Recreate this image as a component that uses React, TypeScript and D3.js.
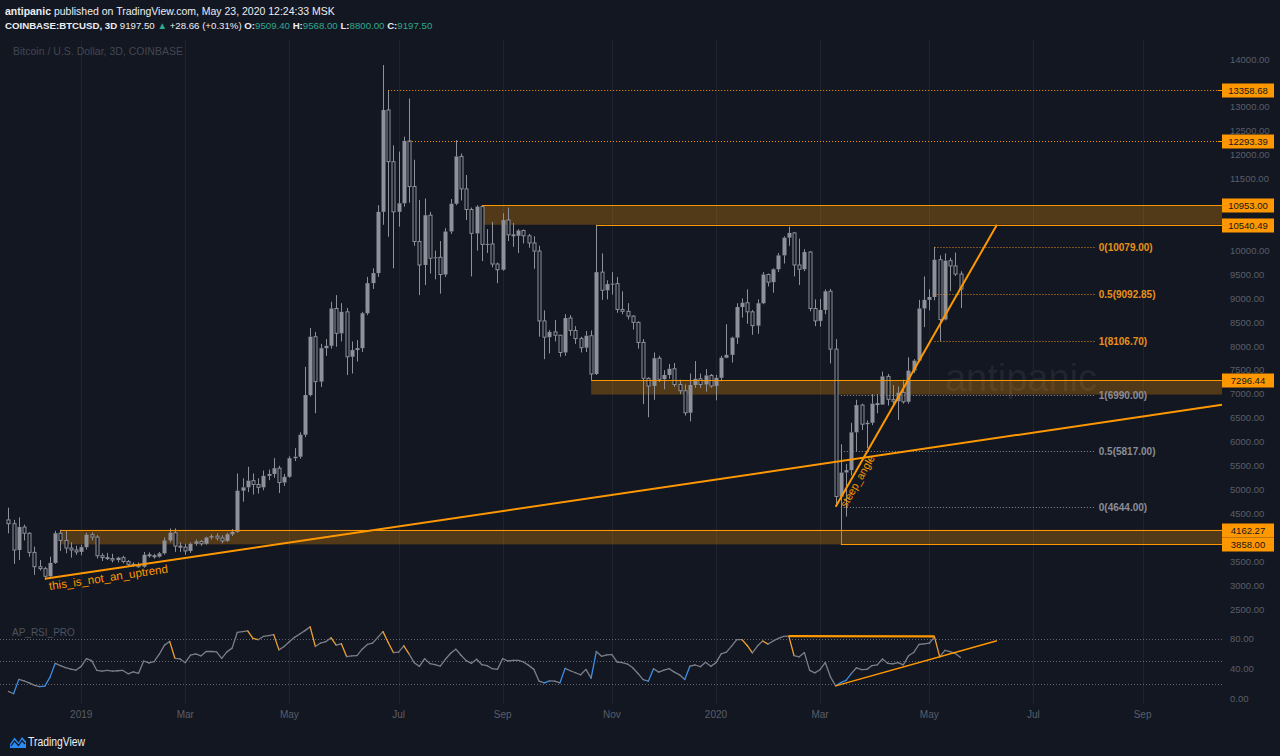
import * as d3 from "d3"
import React from "react"

// 3D bars, COINBASE:BTCUSD, first bar 2018-11-21 (TradingView restarts the 3-day count each Jan 1)
const barOpen = [
  4370, 4290, 3740, 4220, 4090, 3690, 3390, 3350, 3190, 3470,
  4090, 3940, 3780, 3740, 3700, 3800, 4060, 4010, 3620, 3580,
  3560, 3530, 3580, 3500, 3440, 3420, 3390, 3640, 3620, 3600,
  3670, 3940, 4100, 3820, 3800, 3720, 3870, 3920, 3870, 4000,
  4030, 3990, 3930, 4070, 4120, 4980, 5050, 5190, 5110, 5050,
  5290, 5330, 5450, 5150, 5270, 5660, 5690, 6150, 6980, 8200,
  7260, 7960, 8010, 8790, 8270, 8720, 7780, 7920, 7960, 8690,
  9320, 9530, 10810, 12940, 11860, 10810, 10990, 12293.39, 11340, 10190,
  9700, 10740, 9840, 9860, 9500, 10400, 10980, 11970, 11290, 10860,
  10360, 10920, 10130, 10140, 9720, 9600, 10640, 10330, 10310, 10420,
  10310, 10160, 9990, 8530, 8190, 8300, 8230, 7870, 8590, 8330,
  8160, 7970, 8220, 7420, 9550, 9170, 9300, 9310, 8770, 8730,
  8630, 8500, 8080, 7330, 7170, 7750, 7310, 7400, 7530, 7200,
  7070, 6610, 7190, 7320, 7200, 7390, 7170, 7340, 7760, 7820,
  8180, 8820, 8910, 8720, 8430, 8900, 9500, 9340, 9610, 9900,
  10270, 10370, 9700, 9610, 9970, 8790, 8530, 8760, 9150, 7940,
  4857, 5360, 5410, 6200, 6770, 6370, 6400, 6800, 6780, 7370,
  6890, 6850, 7030, 6840, 7490, 7700, 8790, 8970, 9030, 9810,
  8560, 9790, 9680, 9509.4,
]
const barHigh = [
  4625, 4370, 4420, 4270, 4110, 3810, 3530, 3390, 3600, 4140,
  4162.27, 4150, 3900, 3830, 3850, 4100, 4110, 4050, 3670, 3680,
  3660, 3600, 3620, 3530, 3480, 3480, 3700, 3690, 3660, 3700,
  4000, 4190, 4190, 3900, 3870, 3900, 3960, 3950, 4020, 4070,
  4090, 4050, 4100, 4180, 5340, 5240, 5480, 5340, 5240, 5400,
  5420, 5660, 5500, 5330, 5700, 5870, 6200, 7570, 8380, 8300,
  8050, 8150, 8930, 9070, 8900, 8800, 8100, 8130, 8720, 9450,
  9630, 10950, 13880, 13358.68, 12200, 12070, 12380, 13180, 11900, 11060,
  11090, 10810, 10000, 10200, 10470, 11080, 12310, 12030, 11580, 10900,
  10950, 10953, 10450, 10600, 9750, 10780, 10900, 10580, 10450, 10440,
  10350, 10300, 10100, 8750, 8340, 8550, 8240, 8670, 8650, 8420,
  8200, 8320, 8330, 10540.49, 9940, 9380, 9550, 9450, 9150, 8900,
  8650, 8520, 8150, 7350, 7870, 7800, 7500, 7630, 7650, 7300,
  7200, 7430, 7690, 7430, 7520, 7420, 7400, 7800, 8460, 8200,
  8900, 9000, 9190, 8760, 8980, 9550, 9520, 9630, 9950, 10300,
  10500, 10390, 10250, 10030, 9990, 8980, 8990, 9190, 9200, 8150,
  5950, 5540, 6400, 6880, 6800, 6450, 7000, 7000, 7470, 7420,
  7190, 7160, 7300, 7770, 7730, 8970, 9460, 9190, 10079, 9900,
  9940, 9850, 9960, 9568,
]
const barLow = [
  4090, 3450, 3530, 3940, 3600, 3220, 3310, 3120, 3150, 3450,
  3720, 3670, 3580, 3640, 3630, 3750, 3940, 3560, 3510, 3530,
  3480, 3480, 3460, 3400, 3390, 3370, 3370, 3580, 3560, 3580,
  3640, 3900, 3700, 3700, 3640, 3680, 3830, 3830, 3850, 3960,
  3940, 3880, 3910, 4030, 4100, 4750, 4950, 4900, 4920, 4990,
  5200, 5250, 4930, 5080, 5250, 5600, 5650, 6100, 6950, 6600,
  7150, 7800, 7950, 7990, 8100, 7400, 7430, 7680, 7880, 8650,
  9200, 9450, 10540, 10290, 9630, 10500, 10920, 11000, 10100, 9070,
  9280, 9520, 9400, 9100, 9450, 10350, 10950, 11050, 10640, 9460,
  10000, 9780, 9950, 9650, 9320, 9580, 10200, 10080, 9950, 10150,
  10060, 9620, 8200, 7730, 7850, 8100, 7780, 7800, 8220, 8050,
  7870, 7880, 7296.44, 7400, 8970, 8980, 9080, 8700, 8670, 8560,
  8350, 7950, 6790, 6515, 6880, 7250, 7100, 7320, 7150, 7000,
  6550, 6430, 7130, 7130, 7050, 7130, 6870, 7270, 7750, 7660,
  8050, 8600, 8470, 8240, 8260, 8880, 9250, 9120, 9550, 9730,
  10100, 9460, 9280, 9570, 8730, 8420, 8410, 8670, 7640, 4644,
  3858, 4440, 5300, 5800, 6250, 5870, 6350, 6600, 6780, 6760,
  6770, 6460, 6800, 6800, 7440, 7680, 8400, 8750, 8960, 8106.7,
  8540, 9150, 9470, 8800,
]
const barClose = [
  4290, 3740, 4220, 4090, 3690, 3390, 3350, 3190, 3470, 4090,
  3940, 3780, 3740, 3700, 3800, 4060, 4010, 3620, 3580, 3560,
  3530, 3580, 3500, 3440, 3420, 3390, 3640, 3620, 3600, 3670,
  3940, 4100, 3820, 3800, 3720, 3870, 3920, 3870, 4000, 4030,
  3990, 3930, 4070, 4120, 4980, 5050, 5190, 5110, 5050, 5290,
  5330, 5450, 5150, 5270, 5660, 5690, 6150, 6980, 8200, 7260,
  7960, 8010, 8790, 8270, 8720, 7780, 7920, 7960, 8690, 9320,
  9530, 10810, 12940, 11860, 10810, 10990, 12293.39, 11340, 10190, 9700,
  10740, 9840, 9860, 9500, 10400, 10980, 11970, 11290, 10860, 10360,
  10920, 10130, 10140, 9720, 9600, 10640, 10330, 10310, 10420, 10310,
  10160, 9990, 8530, 8190, 8300, 8230, 7870, 8590, 8330, 8160,
  7970, 8220, 7420, 9550, 9170, 9300, 9310, 8770, 8730, 8630,
  8500, 8080, 7330, 7170, 7750, 7310, 7400, 7530, 7200, 7070,
  6610, 7190, 7320, 7200, 7390, 7170, 7340, 7760, 7820, 8180,
  8820, 8910, 8720, 8430, 8900, 9500, 9340, 9610, 9900, 10270,
  10370, 9700, 9610, 9970, 8790, 8530, 8760, 9150, 7940, 4857,
  5360, 5410, 6200, 6770, 6370, 6400, 6800, 6780, 7370, 6890,
  6850, 7030, 6840, 7490, 7700, 8790, 8970, 9030, 9810, 8560,
  9790, 9680, 9509.4, 9197.5,
]

// AP_RSI_PRO, one value per bar
const rsiValues = [
  10, 7, 26, 24, 21.3, 18, 16.4, 17, 29, 47.3,
  44.2, 41.5, 39.7, 38.4, 43.3, 53.6, 50.9, 37.9, 37, 37.9,
  37, 37.5, 37.9, 33.4, 36.1, 33.9, 50.4, 47.8, 49.5, 59.4,
  71.5, 76.4, 54, 53.1, 48.2, 58.1, 59.8, 57.2, 63, 63,
  62.5, 54, 62.5, 67.5, 88.5, 89.4, 90.3, 80.4, 78.7, 83,
  84, 85.4, 65.2, 69.7, 76, 81.8, 86.3, 90.7, 95.7, 69.7,
  74.2, 76, 81.3, 71.5, 73.3, 56.3, 57.2, 57.6, 66.1, 72.4,
  74.2, 81.8, 89.4, 75, 61.6, 62.1, 70.6, 59.8, 48.2, 43.3,
  53.6, 46.9, 45.5, 43.7, 52.7, 60.7, 66.1, 58.1, 50.9, 47.3,
  52.7, 45.5, 44.2, 40.2, 39.3, 53.6, 50.4, 51.3, 51.3, 49.1,
  44.6, 39.3, 23.6, 21.3, 24, 23.6, 21.3, 40.6, 37.5, 34.8,
  32.1, 39.3, 27.6, 63, 56.7, 58.5, 59, 49.1, 48.2, 46.4,
  41.5, 33.9, 25.8, 23.6, 40.2, 35.7, 38.4, 40.2, 35.7, 32.1,
  25.8, 43.7, 45.1, 42.8, 48.7, 43.3, 48.2, 59.8, 62.1, 70.1,
  78.7, 78.7, 71, 61.2, 70.6, 76.9, 72.8, 76.9, 80.4, 83,
  83.5, 57.7, 56, 61.6, 38, 34.6, 38.9, 48.3, 29.4, 17.4,
  21.7, 24.7, 33.7, 41.4, 38.9, 39.3, 44.4, 45.3, 53, 47.4,
  46.6, 48.3, 45.3, 57.3, 61.6, 72.3, 73.1, 74, 82.5, 56,
  64.6, 62.9, 60.3, 55.1,
]

const priceTicks = d3.range(2500, 14001, 500)
const rsiTicks = [80, 40, 0]
const rsiGuides = [80, 50, 20]

// drawings (bar index, price)
const zoneFrom = [91, 112, 10]
const zoneTop = [10953, 7296.44, 4162.27]
const zoneBottom = [10540.49, 6990, 3858]
const rayFrom = [91, 113, 112, 10, 160]
const rayPrice = [10953, 10540.49, 7296.44, 4162.27, 3858]
const dottedFrom = [73, 77]
const dottedPrice = [13358.68, 12293.39]
const axisBoxes = [13358.68, 12293.39, 10953, 10540.49, 7296.44, 4162.27, 3858]

const fibUpper = { from: 178, to: 209, levels: ["0", "0.5", "1"], prices: [10079, 9092.85, 8106.7] }
const fibLower = { from: 160, to: 209, levels: ["1", "0.5", "0"], prices: [6990, 5817, 4644] }

const trendLong = { i1: 7, p1: 3140, i2: 183, p2: 5970 }
const trendSteep = { i1: 159, p1: 4644, i2: 190, p2: 10540.49 }
const rsiTop = { i1: 150, v1: 83.5, i2: 178, v2: 83 }
const rsiRise = { i1: 159, v1: 17.4, i2: 190, v2: 77.3 }

// header pieces: [text, colour key, bold]
const headLine1 = [["antipanic", "w", 1], [" published on TradingView.com, May 23, 2020 12:24:33 MSK", "w", 0]]
const headLine2 = [
  ["COINBASE:BTCUSD, 3D", "w", 1], [" 9197.50 ", "w", 0], ["\u25B2", "g", 0], [" +28.66 (+0.31%) ", "w", 0],
  ["O:", "w", 1], ["9509.40 ", "g", 0], ["H:", "w", 1], ["9568.00 ", "g", 0],
  ["L:", "w", 1], ["8800.00 ", "g", 0], ["C:", "w", 1], ["9197.50", "g", 0],
]

const FONT = "'Liberation Sans', Arial, sans-serif"
const BG = "#131722"
const ORANGE = "#ff9800"
const CANDLE = "#8e919a"
const AXIS_TXT = "#5a5e69"
const TEAL = "#2fa88f"
const HEAD = "#eceef2"
const W = 1280
const H = 756
const PLOT_R = 1222

// bar start dates: step 3 days, restart at Jan 1 of each year
const buildBarDates = (start: Date, count: number) => {
  const out: Date[] = []
  let d = start
  while (out.length < count) {
    out.push(d)
    const next = d3.timeDay.offset(d, 3)
    d = next.getFullYear() !== d.getFullYear() ? new Date(next.getFullYear(), 0, 1) : next
  }
  return out
}

const drawChart = (el: SVGSVGElement) => {
  const svg = d3.select(el)
  svg.selectAll("*").remove()

  const x = d3.scaleLinear().domain([0, 183]).range([8.4, 960.5])
  const y = d3.scaleLinear().domain([2500, 14000]).range([609.3, 59.3])
  const yR = d3.scaleLinear().domain([0, 80]).range([699, 638.7])
  const lastIdx = x.invert(PLOT_R)

  const dates = buildBarDates(new Date(2018, 10, 21), Math.ceil(lastIdx) + 1)
  const ticks: { i: number, label: string }[] = []
  dates.forEach((d, i) => {
    if (i === 0 || d.getMonth() === dates[i - 1].getMonth()) return
    if (d.getMonth() % 2 !== 0) return
    ticks.push({ i, label: d.getMonth() === 0 ? String(d.getFullYear()) : d3.timeFormat("%b")(d) })
  })

  svg.append("rect").attr("width", W).attr("height", H).attr("fill", BG)

  // watermark
  svg.append("text")
    .attr("x", 1021).attr("y", 391)
    .attr("text-anchor", "middle")
    .attr("font-family", FONT).attr("font-size", 38)
    .attr("fill", "#ffffff").attr("fill-opacity", 0.07)
    .text("antipanic")

  // vertical grid
  svg.append("g").selectAll("line").data(ticks).join("line")
    .attr("x1", (d) => Math.round(x(d.i)) + 0.5).attr("x2", (d) => Math.round(x(d.i)) + 0.5)
    .attr("y1", 40).attr("y2", 704)
    .attr("stroke", "#1f2331").attr("stroke-width", 1)

  // time labels
  svg.append("g").selectAll("text").data(ticks).join("text")
    .attr("x", (d) => x(d.i)).attr("y", 718)
    .attr("text-anchor", "middle")
    .attr("font-family", FONT).attr("font-size", 10)
    .attr("fill", AXIS_TXT)
    .text((d) => d.label)

  // zones
  svg.append("g").selectAll("rect").data(zoneFrom).join("rect")
    .attr("x", (d) => x(d))
    .attr("y", (d, k) => y(zoneTop[k]))
    .attr("width", (d) => PLOT_R - x(d))
    .attr("height", (d, k) => y(zoneBottom[k]) - y(zoneTop[k]))
    .attr("fill", ORANGE).attr("fill-opacity", 0.27)

  // candles: filled when the bar closes up, hollow when it closes down
  const bars = barClose.map((c, i) => ({ i, o: barOpen[i], h: barHigh[i], l: barLow[i], c }))
  const cg = svg.append("g")
  bars.forEach((b) => {
    const cx = Math.round(x(b.i))
    const up = b.c >= b.o
    const top = y(Math.max(b.o, b.c))
    const bot = y(Math.min(b.o, b.c))
    cg.append("line")
      .attr("x1", cx + 0.5).attr("x2", cx + 0.5)
      .attr("y1", y(b.h)).attr("y2", top)
      .attr("stroke", CANDLE)
    cg.append("line")
      .attr("x1", cx + 0.5).attr("x2", cx + 0.5)
      .attr("y1", bot).attr("y2", y(b.l))
      .attr("stroke", CANDLE)
    if (up) {
      cg.append("rect")
        .attr("x", cx - 1.5).attr("width", 4)
        .attr("y", top).attr("height", Math.max(1, bot - top))
        .attr("fill", CANDLE)
    } else {
      cg.append("rect")
        .attr("x", cx - 1).attr("width", 3)
        .attr("y", top).attr("height", Math.max(0.5, bot - top))
        .attr("fill", BG).attr("stroke", CANDLE).attr("stroke-width", 1)
    }
  })

  // horizontal rays
  svg.append("g").selectAll("line").data(rayFrom).join("line")
    .attr("x1", (d) => x(d)).attr("x2", PLOT_R)
    .attr("y1", (d, k) => Math.round(y(rayPrice[k])) + 0.5)
    .attr("y2", (d, k) => Math.round(y(rayPrice[k])) + 0.5)
    .attr("stroke", ORANGE).attr("stroke-width", 1)

  svg.append("g").selectAll("line").data(dottedFrom).join("line")
    .attr("x1", (d) => x(d)).attr("x2", PLOT_R)
    .attr("y1", (d, k) => Math.round(y(dottedPrice[k])) + 0.5)
    .attr("y2", (d, k) => Math.round(y(dottedPrice[k])) + 0.5)
    .attr("stroke", ORANGE).attr("stroke-width", 1).attr("stroke-dasharray", "1 2")

  // fib retracements
  const drawFib = (fib: typeof fibUpper, color: string) => {
    const g = svg.append("g")
    fib.prices.forEach((p, k) => {
      const yy = Math.round(y(p)) + 0.5
      g.append("line")
        .attr("x1", x(fib.from)).attr("x2", x(fib.to))
        .attr("y1", yy).attr("y2", yy)
        .attr("stroke", color).attr("stroke-dasharray", "1 2")
      g.append("text")
        .attr("x", x(fib.to) + 3).attr("y", yy)
        .attr("dy", "0.35em")
        .attr("font-family", FONT).attr("font-size", 10).attr("font-weight", "bold")
        .attr("fill", color)
        .text(`${fib.levels[k]}(${p.toFixed(2)})`)
    })
  }
  drawFib(fibUpper, "#e8901a")
  drawFib(fibLower, "#8a8d96")

  // trend lines
  const slopeLong = (trendLong.p2 - trendLong.p1) / (trendLong.i2 - trendLong.i1)
  const longEnd = trendLong.p1 + slopeLong * (lastIdx - trendLong.i1)
  const lx1 = x(trendLong.i1), ly1 = y(trendLong.p1), lx2 = PLOT_R, ly2 = y(longEnd)
  svg.append("line")
    .attr("x1", lx1).attr("y1", ly1).attr("x2", lx2).attr("y2", ly2)
    .attr("stroke", ORANGE).attr("stroke-width", 2)
  const angLong = Math.atan2(ly2 - ly1, lx2 - lx1) * 180 / Math.PI
  svg.append("text")
    .attr("transform", `translate(${lx1 + 3},${ly1 - 0.5}) rotate(${angLong})`)
    .attr("x", 0).attr("y", 12)
    .attr("font-family", FONT).attr("font-size", 11.5)
    .attr("textLength", 120).attr("lengthAdjust", "spacingAndGlyphs")
    .attr("fill", ORANGE)
    .text("this_is_not_an_uptrend")

  const sx1 = x(trendSteep.i1), sy1 = y(trendSteep.p1), sx2 = x(trendSteep.i2), sy2 = y(trendSteep.p2)
  svg.append("line")
    .attr("x1", sx1).attr("y1", sy1).attr("x2", sx2).attr("y2", sy2)
    .attr("stroke", ORANGE).attr("stroke-width", 2)
  const angSteep = Math.atan2(sy2 - sy1, sx2 - sx1) * 180 / Math.PI
  svg.append("text")
    .attr("transform", `translate(${sx1},${sy1}) rotate(${angSteep})`)
    .attr("x", 4).attr("y", 10)
    .attr("font-family", FONT).attr("font-size", 11)
    .attr("textLength", 58).attr("lengthAdjust", "spacingAndGlyphs")
    .attr("fill", ORANGE)
    .text("steep_angle")

  // price axis; labels sitting fully under an orange price box are not drawn
  const boxY = axisBoxes.map((p) => y(p))
  const visibleTicks = priceTicks.filter((t) => boxY.every((b) => Math.abs(y(t) - b) > 7.5))
  svg.append("g").selectAll("text").data(visibleTicks).join("text")
    .attr("x", 1230).attr("y", (d) => y(d))
    .attr("dy", "0.35em")
    .attr("font-family", FONT).attr("font-size", 9.5)
    .attr("fill", AXIS_TXT)
    .text((d) => d.toFixed(2))

  const boxes = svg.append("g").selectAll("g").data(axisBoxes).join("g")
    .attr("transform", (d) => `translate(0,${Math.round(y(d))})`)
  boxes.append("line").attr("x1", 1218).attr("x2", 1222).attr("y1", 0.5).attr("y2", 0.5).attr("stroke", ORANGE)
  boxes.append("rect").attr("x", 1222).attr("y", -6.5).attr("width", 52).attr("height", 14).attr("fill", ORANGE)
  boxes.append("text")
    .attr("x", 1248).attr("y", 0.5).attr("dy", "0.35em")
    .attr("text-anchor", "middle")
    .attr("font-family", FONT).attr("font-size", 9.5)
    .attr("fill", "#131722")
    .text((d) => d.toFixed(2))

  // RSI pane
  svg.append("g").selectAll("line").data(rsiGuides).join("line")
    .attr("x1", 0).attr("x2", PLOT_R)
    .attr("y1", (d) => Math.round(yR(d)) + 0.5).attr("y2", (d) => Math.round(yR(d)) + 0.5)
    .attr("stroke", "#787b86").attr("stroke-opacity", 0.8).attr("stroke-dasharray", "1 2")

  svg.append("g").selectAll("text").data(rsiTicks).join("text")
    .attr("x", 1230).attr("y", (d) => yR(d)).attr("dy", "0.35em")
    .attr("font-family", FONT).attr("font-size", 9.5)
    .attr("fill", AXIS_TXT)
    .text((d) => d.toFixed(2))

  svg.append("text")
    .attr("x", 12).attr("y", 636)
    .attr("font-family", FONT).attr("font-size", 10)
    .attr("fill", "#4c525e")
    .text("AP_RSI_PRO")

  const segs = d3.range(rsiValues.length - 1).map((i) => {
    const a = rsiValues[i], b = rsiValues[i + 1]
    const color = a > 70 && b < a ? "#f0a030" : a < 30 && b > a ? "#3a8ee6" : "#7c7f88"
    return { i, a, b, color }
  })
  svg.append("g").selectAll("line").data(segs).join("line")
    .attr("x1", (d) => x(d.i)).attr("x2", (d) => x(d.i + 1))
    .attr("y1", (d) => yR(d.a)).attr("y2", (d) => yR(d.b))
    .attr("stroke", (d) => d.color).attr("stroke-width", 1.3)
    .attr("stroke-linecap", "round")

  svg.append("line")
    .attr("x1", x(rsiTop.i1)).attr("y1", yR(rsiTop.v1))
    .attr("x2", x(rsiTop.i2)).attr("y2", yR(rsiTop.v2))
    .attr("stroke", ORANGE).attr("stroke-width", 2.2)
  svg.append("line")
    .attr("x1", x(rsiRise.i1)).attr("y1", yR(rsiRise.v1))
    .attr("x2", x(rsiRise.i2)).attr("y2", yR(rsiRise.v2))
    .attr("stroke", ORANGE).attr("stroke-width", 1.5)

  // header, one text element per line, font size fitted to the line width
  const headLine = (yy: number, parts: any[], len: number) => {
    const t = svg.append("text")
      .attr("x", 5).attr("y", yy)
      .attr("font-family", FONT).attr("font-size", 12)
      .style("white-space", "pre")
    parts.forEach(([s, c, b]) => {
      t.append("tspan")
        .attr("fill", c === "g" ? TEAL : HEAD)
        .attr("font-weight", b ? "bold" : "normal")
        .text(s)
    })
    const natural = (t.node() as SVGTextElement).getComputedTextLength()
    if (natural > 0) t.attr("font-size", (12 * len / natural).toFixed(2))
  }
  headLine(15, headLine1, 330)
  headLine(29, headLine2, 428)

  svg.append("text")
    .attr("x", 13).attr("y", 55)
    .attr("font-family", FONT).attr("font-size", 11)
    .attr("textLength", 170).attr("lengthAdjust", "spacingAndGlyphs")
    .attr("fill", "#434651")
    .text("Bitcoin / U.S. Dollar, 3D, COINBASE")

  // footer logo
  svg.append("path")
    .attr("d", "M10,748 L10,744 L14.5,737.5 L18.5,742.5 L22,737 L26,741.5 L26,748 Z")
    .attr("fill", "#2a8af6")
  svg.append("polyline")
    .attr("points", "11,746 14.5,741 18.5,745.5 22,740.5 25,744")
    .attr("fill", "none").attr("stroke", BG).attr("stroke-width", 1.2)
  svg.append("text")
    .attr("x", 28).attr("y", 746)
    .attr("font-family", FONT).attr("font-size", 12)
    .attr("textLength", 57).attr("lengthAdjust", "spacingAndGlyphs")
    .attr("fill", HEAD)
    .text("TradingView")
}

const App = () => {
  const ref = React.useRef<SVGSVGElement>(null)
  React.useEffect(() => {
    if (ref.current) drawChart(ref.current)
  }, [])
  return (
    <svg
      ref={ref}
      width={W}
      height={H}
      viewBox={`0 0 ${W} ${H}`}
      style={{ position: "absolute", left: 0, top: 0, display: "block", background: BG }}
    />
  )
}

export default App
